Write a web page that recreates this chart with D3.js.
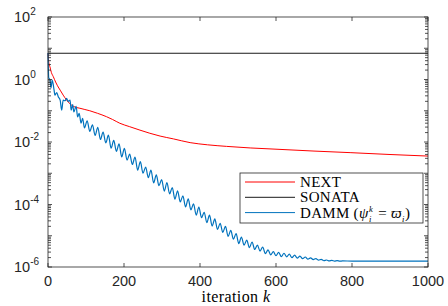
<!DOCTYPE html>
<html>
<head>
<meta charset="utf-8">
<script src="https://cdn.jsdelivr.net/npm/d3@7/dist/d3.min.js"></script>
<style>
body { margin: 0; background: #fff; }
svg text { font-family: "Liberation Sans", Arial, Helvetica, sans-serif; fill: #262626; }
svg text.serif { font-family: "Liberation Serif", "Times New Roman", serif; fill: #000; white-space: pre; }
</style>
</head>
<body>
<svg id="chart" width="448" height="306"></svg>
<script>
// values (y values given as log10, the axis is logarithmic)
var iterTicks = [0, 200, 400, 600, 800, 1000];
var labelExps = [2, 0, -2, -4, -6];

var sonataIter = [0, 1000];
var sonataExp = [0.84, 0.84];

var nextIter = [0, 2, 5, 9, 14, 20, 25, 32, 40, 49, 58, 67, 76, 84, 97, 110, 130, 154, 170, 189,
    215, 242, 268, 295, 330, 374, 420, 470, 532, 600, 700, 795, 900, 1000];
var nextExp = [0.84, 0.55, 0.41, 0.22, 0.09, -0.08, -0.2, -0.34, -0.5, -0.66, -0.78, -0.86, -0.9, -0.92, -0.96, -1.0, -1.08, -1.19, -1.28, -1.4,
    -1.51, -1.62, -1.72, -1.81, -1.9, -2.02, -2.09, -2.14, -2.19, -2.23, -2.29, -2.34, -2.4, -2.45];

var dammIter = [0, 2, 5, 8, 11, 16, 18, 23, 27, 32, 36, 40, 45, 49, 53, 58, 61, 65, 68, 74, 78, 82, 87, 91, 96,
    103, 110, 117, 124, 131, 138, 145, 152, 159, 166, 173, 180, 187, 194, 201, 208, 215, 222, 229, 236,
    243, 250, 257, 264, 271, 278, 285, 292, 299, 306, 313, 320, 327, 334, 341, 348, 355, 362, 369, 376,
    383, 390, 397, 404, 411, 418, 425, 432, 439, 446, 453, 460, 467, 474, 481, 488, 495, 502, 509, 516,
    523, 530, 537, 544, 551, 558, 565, 572, 579, 586, 593, 600, 607, 614, 621, 628, 635, 642, 649, 656,
    663, 670, 677, 684, 691, 698, 705, 712, 719, 726, 733, 740, 747, 754, 761, 768, 775, 800, 1000];
var dammExp = [0.85, 0.05, 0.0, -0.27, -0.02, -0.34, -0.5, -0.42, -0.55, -0.66, -0.98, -0.66, -0.68, -0.6, -0.7, -0.66, -0.98, -0.8, -1.04, -0.86, -1.2, -1.08, -1.4, -1.24, -1.55,
    -1.32, -1.66, -1.45, -1.79, -1.53, -1.92, -1.68, -2.03, -1.78, -2.2, -1.95, -2.3, -2.06, -2.48, -2.2, -2.58, -2.39, -2.72, -2.48, -2.9,
    -2.63, -3.0, -2.8, -3.14, -2.9, -3.31, -3.05, -3.4, -3.2, -3.57, -3.3, -3.66, -3.46, -3.83, -3.56, -3.92, -3.72, -4.08, -3.82, -4.17,
    -3.98, -4.34, -4.08, -4.42, -4.25, -4.58, -4.34, -4.69, -4.46, -4.8, -4.6, -4.89, -4.7, -5.02, -4.83, -5.11, -4.93, -5.25, -5.04, -5.3,
    -5.14, -5.38, -5.2, -5.44, -5.3, -5.49, -5.36, -5.57, -5.45, -5.61, -5.51, -5.64, -5.53, -5.67, -5.56, -5.675, -5.59, -5.7, -5.62, -5.715,
    -5.65, -5.735, -5.68, -5.75, -5.705, -5.765, -5.73, -5.78, -5.755, -5.8, -5.776, -5.806, -5.788, -5.81, -5.797, -5.815, -5.805, -5.81, -5.81];

var plotLeft = 48, plotRight = 428, plotTop = 17, plotBottom = 267;
var axisColor = "#262626";

var svg = d3.select("#chart");

var x = d3.scaleLinear().domain([0, 1000]).range([plotLeft, plotRight]);
var y = d3.scaleLog().domain([1e-6, 1e2]).range([plotBottom, plotTop]);

function toPoints(iters, exps) {
    return iters.map(function(k, i) { return [k, Math.pow(10, exps[i])]; });
}

var line = d3.line()
    .x(function(d) { return x(d[0]); })
    .y(function(d) { return y(d[1]); })
    .curve(d3.curveMonotoneX);

var plot = svg.append("g");

plot.append("path")
    .datum(toPoints(nextIter, nextExp))
    .attr("fill", "none").attr("stroke", "#ff0000").attr("stroke-width", 1)
    .attr("d", line);

plot.append("path")
    .datum(toPoints(sonataIter, sonataExp))
    .attr("fill", "none").attr("stroke", "#1a1a1a").attr("stroke-width", 1)
    .attr("d", line);

plot.append("path")
    .datum(toPoints(dammIter, dammExp))
    .attr("fill", "none").attr("stroke", "#0072bd").attr("stroke-width", 1.2)
    .attr("d", line);

// box + inward ticks
var ax = svg.append("g").attr("stroke", axisColor).attr("stroke-width", 0.8).attr("fill", "none");
ax.append("rect")
    .attr("x", plotLeft).attr("y", plotTop)
    .attr("width", plotRight - plotLeft).attr("height", plotBottom - plotTop);

iterTicks.forEach(function(k) {
    ax.append("line").attr("x1", x(k)).attr("x2", x(k)).attr("y1", plotBottom).attr("y2", plotBottom - 4);
    ax.append("line").attr("x1", x(k)).attr("x2", x(k)).attr("y1", plotTop).attr("y2", plotTop + 4);
});

for (var e = -6; e <= 2; e++) {
    var v = Math.pow(10, e);
    ax.append("line").attr("x1", plotLeft).attr("x2", plotLeft + 4).attr("y1", y(v)).attr("y2", y(v));
    ax.append("line").attr("x1", plotRight).attr("x2", plotRight - 4).attr("y1", y(v)).attr("y2", y(v));
    if (e < 2) {
        for (var m = 2; m <= 9; m++) {
            var mv = m * v;
            ax.append("line").attr("x1", plotLeft).attr("x2", plotLeft + 3).attr("y1", y(mv)).attr("y2", y(mv));
            ax.append("line").attr("x1", plotRight).attr("x2", plotRight - 3).attr("y1", y(mv)).attr("y2", y(mv));
        }
    }
}

// tick labels
svg.append("g").selectAll("text")
    .data(iterTicks)
    .join("text")
    .attr("x", function(d) { return x(d); })
    .attr("y", 286)
    .attr("text-anchor", "middle")
    .style("font-size", "14.5px")
    .text(function(d) { return d; });

var yl = svg.append("g").selectAll("text")
    .data(labelExps)
    .join("text")
    .attr("x", 14)
    .attr("y", function(d) { return y(Math.pow(10, d)) + 5; })
    .style("font-size", "14.5px");
yl.append("tspan").text("10");
yl.append("tspan")
    .attr("dy", -7)
    .style("font-size", "10px")
    .text(function(d) { return d < 0 ? "-" + (-d) : d; });

// x label
var xl = svg.append("text")
    .attr("class", "serif")
    .attr("x", 236).attr("y", 302)
    .attr("text-anchor", "middle")
    .style("font-size", "16px")
    .style("letter-spacing", "0.4px");
xl.append("tspan").text("iteration ");
xl.append("tspan").style("font-style", "italic").text("k");

// legend
var legend = svg.append("g");
legend.append("rect")
    .attr("x", 240).attr("y", 173)
    .attr("width", 183).attr("height", 50)
    .attr("fill", "#fff").attr("stroke", axisColor).attr("stroke-width", 0.8);

var items = [
    { color: "#ff0000", yy: 182 },
    { color: "#1a1a1a", yy: 197.3 },
    { color: "#0072bd", yy: 212.6 }
];
items.forEach(function(it) {
    legend.append("line")
        .attr("x1", 245).attr("x2", 295)
        .attr("y1", it.yy).attr("y2", it.yy)
        .attr("stroke", it.color).attr("stroke-width", 1);
});

function legendText(px, py, str, size, italic) {
    var t = legend.append("text").attr("class", "serif")
        .attr("x", px).attr("y", py)
        .style("font-size", size + "px")
        .style("letter-spacing", "0.3px")
        .text(str);
    if (italic) t.style("font-style", "italic");
    return t.node().getComputedTextLength();
}

legendText(300, 187, "NEXT", 15);
legendText(300, 202.3, "SONATA", 15);

// DAMM (psi_i^k = varpi_i), laid out piece by piece
var base = 217.6;
var cx = 300;
cx += legendText(cx, base, "DAMM (", 15);
cx += legendText(cx, base, "\u03c8", 15, true);
var wk = legendText(cx + 0.5, base - 6, "k", 8.5, true);
var wi = legendText(cx + 0.5, base + 4, "i", 8.5, true);
cx += Math.max(wk, wi) + 1.5;
cx += legendText(cx, base, " = ", 15);
cx += legendText(cx, base, "\u03d6", 15, true);
cx += legendText(cx, base + 4, "i", 8.5, true) + 0.5;
legendText(cx, base, ")", 15);
</script>
</body>
</html>
